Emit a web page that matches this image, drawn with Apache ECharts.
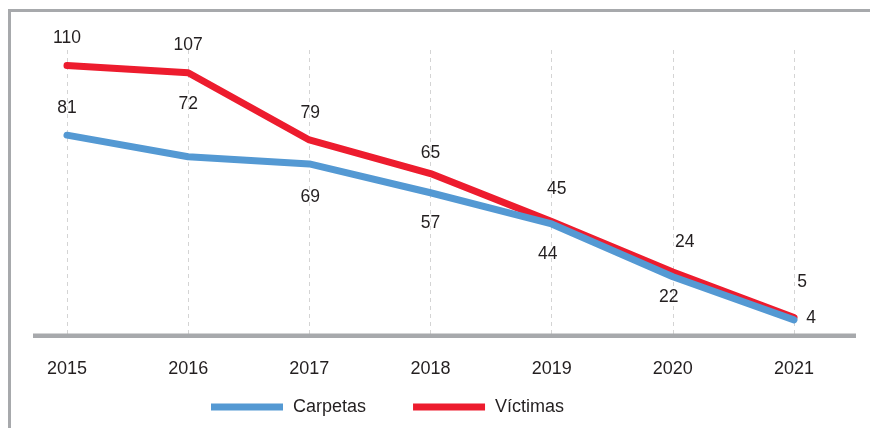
<!DOCTYPE html>
<html>
<head>
<meta charset="utf-8">
<script src="https://cdn.jsdelivr.net/npm/echarts@6/dist/echarts.min.js"></script>
<style>
html,body{margin:0;padding:0;background:#fff;}
#chart{width:870px;height:428px;}
</style>
</head>
<body>
<div id="chart"></div>
<script>
const years = ['2015','2016','2017','2018','2019','2020','2021'];
const carpetas = [81, 72, 69, 57, 44, 22, 4];
const victimas = [110, 107, 79, 65, 45, 24, 5];

// label placement (style only)
const carpetasLabelOffsets = [[0,-27],[0,-53],[1,33],[0,30],[-4,30],[-4,20],[17,-2]];
const victimasLabelOffsets = [[0,-27],[0,-28],[1,-27],[0,-20],[5,-32],[12,-30],[8,-35]];

const font = 'Liberation Sans, Arial, Helvetica, sans-serif';
const txt = '#231f20';

function withLabels(vals, offs) {
  return vals.map((v, i) => ({
    value: v,
    label: { show: true, position: 'inside', offset: offs[i], formatter: '{c}',
      color: txt, fontSize: 17.5, fontFamily: font }
  }));
}

const chart = echarts.init(document.getElementById('chart'), null, {renderer: 'canvas'});
chart.setOption({
  animation: false,
  backgroundColor: '#fff',
  grid: { left: 67, right: 76, top: 50, bottom: 92.5 },
  xAxis: {
    type: 'category',
    data: years,
    boundaryGap: false,
    axisLine: { show: false },
    axisTick: { show: false },
    axisLabel: { margin: 25, color: txt, fontSize: 18, fontFamily: font },
    splitLine: { show: true, lineStyle: { color: '#d4d4d4', type: [4, 4], width: 1 } }
  },
  yAxis: {
    type: 'value',
    min: -2.5, max: 116.5,
    show: false,
    splitLine: { show: false }
  },
  legend: {
    data: ['Carpetas', 'Víctimas'],
    left: 211, top: 398,
    padding: 0,
    icon: 'rect',
    itemWidth: 72, itemHeight: 7,
    itemGap: 47,
    textStyle: { color: txt, fontSize: 18, fontFamily: font, padding: [0,0,0,5] }
  },
  series: [
    {
      name: 'Carpetas', type: 'line', z: 3,
      data: withLabels(carpetas, carpetasLabelOffsets),
      symbol: 'circle', symbolSize: 0.1, showSymbol: true,
      itemStyle: { color: '#5499d3' },
      lineStyle: { color: '#5499d3', width: 7, cap: 'round', join: 'round' }
    },
    {
      name: 'Víctimas', type: 'line', z: 2,
      data: withLabels(victimas, victimasLabelOffsets),
      symbol: 'circle', symbolSize: 0.1, showSymbol: true,
      itemStyle: { color: '#ed1c2e' },
      lineStyle: { color: '#ed1c2e', width: 7, cap: 'round', join: 'round' }
    }
  ],
  graphic: [
    { type: 'rect', shape: { x: 8, y: 9, width: 862, height: 3 }, style: { fill: '#a7a9ac' }, silent: true },
    { type: 'rect', shape: { x: 8, y: 9, width: 3, height: 419 }, style: { fill: '#a7a9ac' }, silent: true },
    { type: 'rect', shape: { x: 33, y: 333.5, width: 823, height: 4.5 }, style: { fill: '#a7a9ac' }, silent: true, z: 1 }
  ]
});
</script>
</body>
</html>
